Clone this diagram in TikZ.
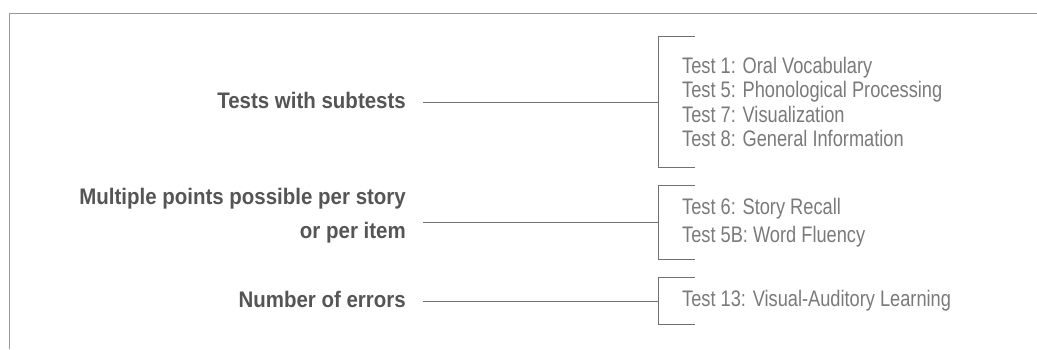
\documentclass[tikz,border=0pt]{standalone}
\usepackage{fontspec}
\setmainfont{Liberation Sans}
\newfontfamily\labelfont[FakeStretch=0.91]{Liberation Sans}
\newfontfamily\listfont[FakeStretch=0.81]{Liberation Sans}
\definecolor{labelgray}{HTML}{555555}
\definecolor{listgray}{HTML}{7A7A7A}
\definecolor{linegray}{HTML}{707070}

\begin{document}
\begin{tikzpicture}[x=1pt,y=-1pt,
    lab/.style={anchor=east,inner sep=0pt,align=right,text=labelgray,
        font=\labelfont\bfseries\fontsize{22.5}{34}\selectfont},
    tests/.style={anchor=west,inner xsep=24pt,inner ysep=0pt,align=left,text=listgray,
        font=\listfont\fontsize{22.5}{24.5}\selectfont},
    conn/.style={draw=linegray,line width=0.8pt}]
    \useasboundingbox (0,0) rectangle (1037,349);
    \draw[line width=0.8pt,draw=gray!80] (1037,13) -- (9,13) -- (9,349);
    \node[lab] (subtests) at (406,100) {Tests with subtests};
    \node[lab] (points) at (406,216) {Multiple points possible per story\\or per item};
    \node[lab] (errors) at (406,299) {Number of errors};
    \node[tests,minimum height=130pt] (list1) at (658,102) {Test 1: Oral Vocabulary\\Test 5: Phonological Processing\\Test 7: Visualization\\Test 8: General Information};
    \node[tests,minimum height=73pt] (list2) at (658,222.5) {Test 6: Story Recall\\[3pt]Test 5B: Word Fluency};
    \node[tests,minimum height=46pt] (list3) at (658,301) {Test 13: Visual-Auditory Learning};
    \foreach \l/\n in {subtests/list1,points/list2,errors/list3} {
        \draw[conn] ([xshift=37pt]\n.north west) -- (\n.north west) -- (\n.south west) -- ++(37,0);
        \draw[conn,shorten >=17pt] (\n.west) -- (\l.east |- \n.west);
    }
\end{tikzpicture}
\end{document}
